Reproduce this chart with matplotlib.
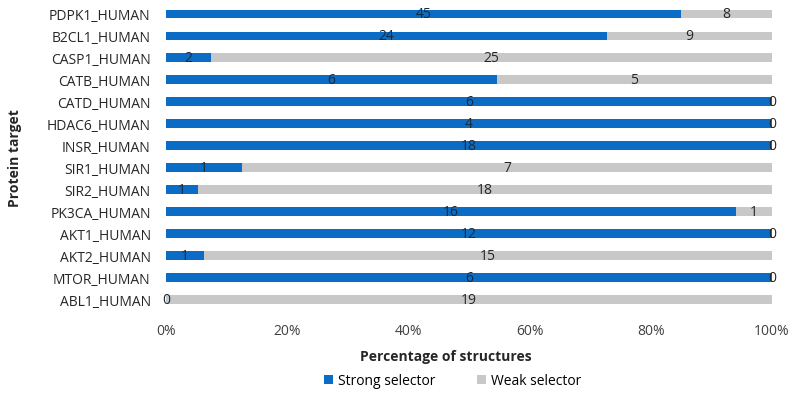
import matplotlib.pyplot as plt
import numpy as np
from matplotlib.ticker import PercentFormatter

# --- Data (top to bottom as in the chart)
targets = ["PDPK1_HUMAN", "B2CL1_HUMAN", "CASP1_HUMAN", "CATB_HUMAN",
           "CATD_HUMAN", "HDAC6_HUMAN", "INSR_HUMAN", "SIR1_HUMAN",
           "SIR2_HUMAN", "PK3CA_HUMAN", "AKT1_HUMAN", "AKT2_HUMAN",
           "MTOR_HUMAN", "ABL1_HUMAN"]
strong = [45, 24, 2, 6, 6, 4, 18, 1, 1, 16, 12, 1, 6, 0]
weak = [8, 9, 25, 5, 0, 0, 0, 7, 18, 1, 0, 15, 0, 19]

plt.rcParams['font.family'] = ['Open Sans', 'DejaVu Sans']

strong = np.array(strong, dtype=float)
weak = np.array(weak, dtype=float)
total = strong + weak
strongPct = strong / total
weakPct = weak / total

# bars listed top-down, so flip the positions
y = np.arange(len(targets))[::-1]

fig = plt.figure(figsize=(8, 4.02), dpi=100)
ax = fig.add_axes([0.2075, 0.226, 0.7575, 0.764])

blue = "#0a6cc4"
grey = "#c8c8c8"
ax.barh(y, strongPct, height=0.4, color=blue, label="Strong selector")
ax.barh(y, weakPct, left=strongPct, height=0.4, color=grey, label="Weak selector")

# segment value labels
for yi, s, w, sp, wp in zip(y, strong, weak, strongPct, weakPct):
    ax.text(sp / 2, yi, f"{int(s)}", ha="center", va="center",
            fontsize=10, color="#1a2a3a")
    ax.text(sp + wp / 2, yi, f"{int(w)}", ha="center", va="center",
            fontsize=10, color="#262626")

ax.set_xlim(0, 1)
ax.set_ylim(-0.5, len(targets) - 0.5)
ax.set_yticks(y)
ax.set_yticklabels(targets, fontsize=10, color="#262626")
ax.set_xticks(np.linspace(0, 1, 6))
ax.xaxis.set_major_formatter(PercentFormatter(1.0, decimals=0))
ax.tick_params(axis="x", labelsize=10, labelcolor="#404040", length=0, pad=9)
ax.tick_params(axis="y", length=0, pad=11)
for sp in ax.spines.values():
    sp.set_visible(False)

ax.set_xlabel("Percentage of structures", fontsize=10, fontweight="bold",
              color="#262626")
ax.xaxis.set_label_coords(0.462, -0.125)
ax.set_ylabel("Protein target", fontsize=10, fontweight="bold",
              color="#262626")
ax.yaxis.set_label_coords(-0.238, 0.5)

fig.legend(loc="center", bbox_to_anchor=(0.566, 0.05), ncol=2, frameon=False,
           fontsize=10, handlelength=0.6, handleheight=0.6,
           columnspacing=3, handletextpad=0.4)

fig.savefig("out.png", dpi=100)
